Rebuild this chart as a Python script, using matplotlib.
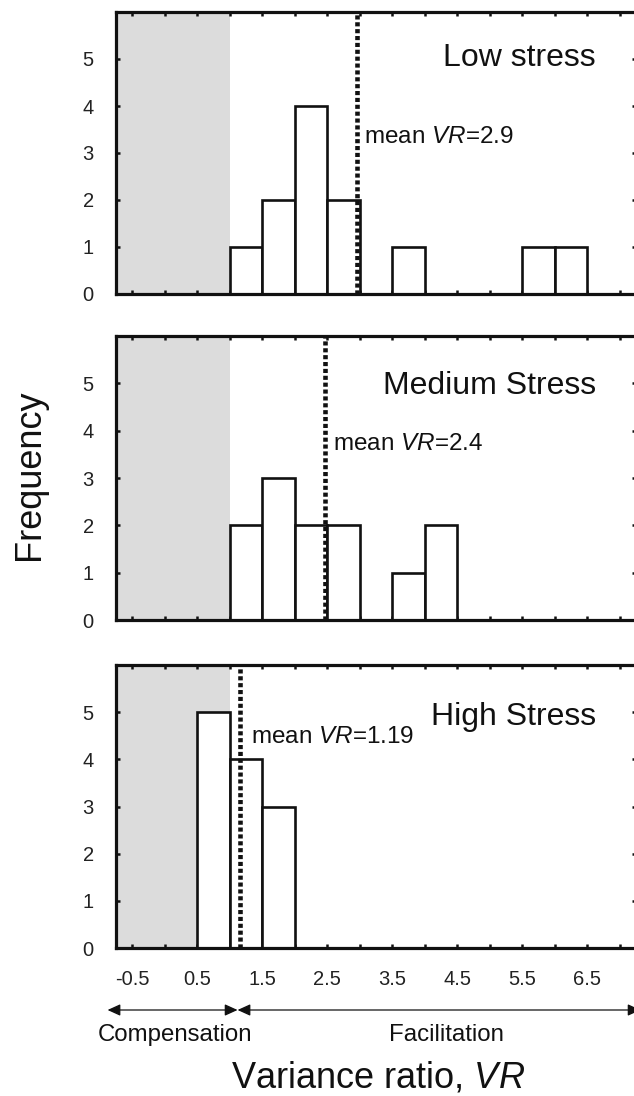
import numpy as np
import matplotlib.pyplot as plt

plt.rcParams['font.family'] = ['Liberation Sans', 'DejaVu Sans']
plt.rcParams['mathtext.fontset'] = 'custom'
plt.rcParams['mathtext.rm'] = 'Liberation Sans'
plt.rcParams['mathtext.it'] = 'Liberation Sans:italic'

# --- Data --- #
bin_left   = [0.5, 1.0, 1.5, 2.0, 2.5, 3.0, 3.5, 4.0, 4.5, 5.0, 5.5, 6.0]
low_counts = [0, 1, 2, 4, 2, 0, 1, 0, 0, 0, 1, 1]
med_counts = [0, 2, 3, 2, 2, 0, 1, 2, 0, 0, 0, 0]
high_counts = [5, 4, 3, 0, 0, 0, 0, 0, 0, 0, 0, 0]
bin_width  = 0.5

panel_names  = ['Low stress', 'Medium Stress', 'High Stress']
mean_pos     = [2.95, 2.47, 1.16]
mean_labels  = ['2.9', '2.4', '1.19']
mean_text_xy = [(3.07, 3.34), (2.59, 3.72), (1.32, 4.47)]
title_y      = [5.03, 4.95, 4.9]

xtick_vals = [-0.5, 0.5, 1.5, 2.5, 3.5, 4.5, 5.5, 6.5]
ytick_vals = [0, 1, 2, 3, 4, 5]

W, H = 634, 1096
fig = plt.figure(figsize=(W / 100, H / 100), dpi=100)

# axes boxes in pixels (top, bottom)
boxes = [(12, 294), (336, 620), (665, 948)]
left_px, right_px = 116, 636

axes = []
for i, (counts, (t, b)) in enumerate(zip([low_counts, med_counts, high_counts], boxes)):
    ax = fig.add_axes([left_px / W, 1 - b / H, (right_px - left_px) / W, (b - t) / H])
    ax.set_xlim(-0.75, 7.25)
    ax.set_ylim(0, 6)
    ax.axvspan(-0.75, 1.0, color='#dcdcdc', lw=0, zorder=0)
    heights = np.array(counts)
    mask = heights > 0
    ax.bar(np.array(bin_left)[mask], heights[mask], width=bin_width, align='edge',
           facecolor='white', edgecolor='#111111', linewidth=1.9, zorder=2)
    ax.axvline(mean_pos[i], color='#111111', lw=3.3, ls=(0, (0.9, 0.6)), zorder=3)
    mx, my = mean_text_xy[i]
    ax.text(mx, my, 'mean $\\mathit{VR}$=' + mean_labels[i], fontsize=17.5,
            ha='left', va='center', color='#111111', zorder=4)
    ax.text(6.63, title_y[i], panel_names[i], fontsize=23, ha='right', va='center',
            color='#111111', zorder=4)

    ax.set_xticks(np.arange(-0.5, 7.01, 0.5))
    ax.set_yticks(ytick_vals)
    ax.tick_params(direction='in', length=3, width=1.8, top=True, right=True,
                   labelsize=14.5, pad=16, color='#111111', labelcolor='#222222')
    for s in ax.spines.values():
        s.set_linewidth(2.3)
        s.set_color('#111111')
    if i < 2:
        ax.set_xticklabels([])
    else:
        labels = [f'{v:g}' if v in xtick_vals else '' for v in np.arange(-0.5, 7.01, 0.5)]
        ax.set_xticklabels(labels)
    axes.append(ax)

axb = axes[-1]
trans = axb.get_xaxis_transform()
arrow_y = -(1010 - 948) / (948 - 665)
arrow_kw = dict(arrowstyle='<|-|>,head_length=0.55,head_width=0.25', color='#111111',
                lw=0.9, shrinkA=0, shrinkB=0, mutation_scale=14)
axb.annotate('', xy=(-0.88, arrow_y), xytext=(1.12, arrow_y), xycoords=trans,
             textcoords=trans, arrowprops=arrow_kw, annotation_clip=False)
axb.annotate('', xy=(1.12, arrow_y), xytext=(7.32, arrow_y), xycoords=trans,
             textcoords=trans, arrowprops=arrow_kw, annotation_clip=False)

fig.text(175 / W, 1 - 1035 / H, 'Compensation', fontsize=17.3, ha='center', va='center', color='#111111')
fig.text(446 / W, 1 - 1035 / H, 'Facilitation', fontsize=17.3, ha='center', va='center', color='#111111')
fig.text(378 / W, 1 - 1078 / H, 'Variance ratio, $\\mathit{VR}$', fontsize=26, ha='center',
         va='center', color='#111111')
fig.text(30 / W, 1 - 475 / H, 'Frequency', fontsize=26, rotation=90, ha='center',
         va='center', color='#111111')

fig.savefig('out.png', dpi=100)
